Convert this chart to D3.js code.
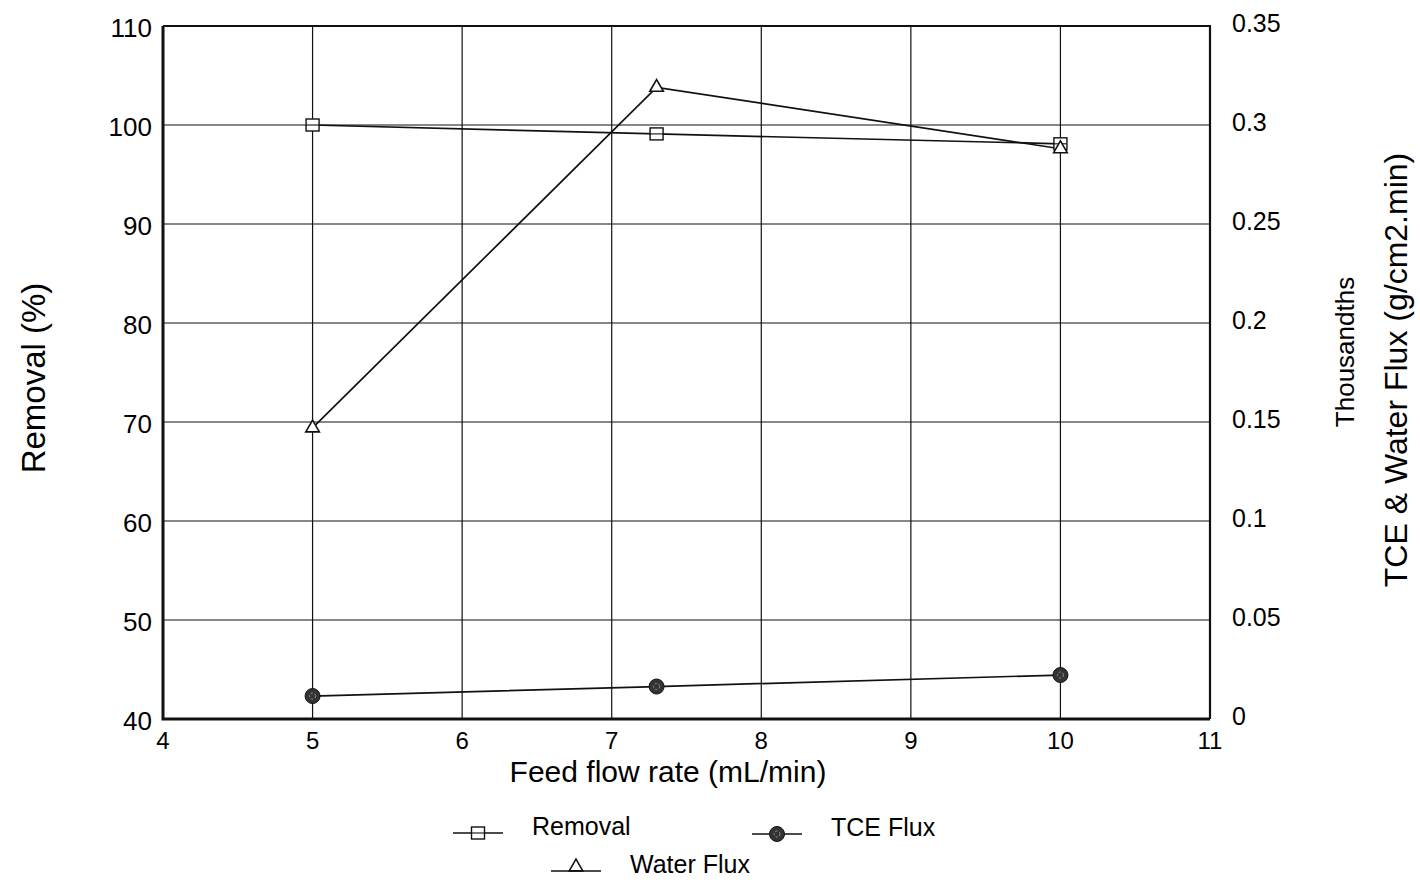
<!DOCTYPE html>
<html lang="en">
<head>
    <meta charset="utf-8">
    <title>Feed flow rate</title>
    <script src="https://d3js.org/d3.v7.min.js"></script>
    <style>
        body { margin: 0; background: #fff; }
        text { font-family: "Liberation Sans", Arial, sans-serif; fill: #000; }
    </style>
</head>
<body>
    <svg id="chart" width="1420" height="882"></svg>
    <script>
        // Data
        const feedRate = [5, 7.3, 10];
        const removal = [100, 99.1, 98.1];        // %, left axis
        const tceFlux = [0.0116, 0.0164, 0.0222]; // thousandths g/cm2.min, right axis
        const waterFlux = [0.147, 0.319, 0.288];  // thousandths g/cm2.min, right axis

        const xTicks = [4, 5, 6, 7, 8, 9, 10, 11];
        const leftTicks = [40, 50, 60, 70, 80, 90, 100, 110];
        const rightTicks = [0, 0.05, 0.1, 0.15, 0.2, 0.25, 0.3, 0.35];

        const svg = d3.select("#chart");
        const plotL = 163, plotR = 1210, plotT = 26, plotB = 719;

        const x = d3.scaleLinear().domain([4, 11]).range([plotL, plotR]);
        const yL = d3.scaleLinear().domain([40, 110]).range([plotB, plotT]);
        const yR = d3.scaleLinear().domain([0, 0.35]).range([plotB, plotT]);

        // grid
        const grid = svg.append("g").attr("stroke", "#111").attr("stroke-width", 1.2);
        xTicks.slice(1, -1).forEach(t => {
            grid.append("line").attr("x1", x(t)).attr("x2", x(t)).attr("y1", plotT).attr("y2", plotB);
        });
        leftTicks.slice(1, -1).forEach(t => {
            grid.append("line").attr("x1", plotL).attr("x2", plotR).attr("y1", yL(t)).attr("y2", yL(t));
        });

        // frame: heavier on left and bottom
        const frame = svg.append("g").attr("stroke", "#111").attr("fill", "none");
        frame.append("path").attr("d", `M${plotL},${plotT}H${plotR}V${plotB}`).attr("stroke-width", 2.2);
        frame.append("path").attr("d", `M${plotL},${plotT}V${plotB}H${plotR}`).attr("stroke-width", 3);

        // tick labels
        const lbl = svg.append("g");
        leftTicks.forEach(t => {
            lbl.append("text").attr("x", plotL - 11).attr("y", yL(t) + 11)
                .attr("text-anchor", "end").attr("font-size", 26).text(t);
        });
        rightTicks.forEach(t => {
            lbl.append("text").attr("x", plotR + 22).attr("y", yR(t) + 6)
                .attr("text-anchor", "start").attr("font-size", 25).text(t);
        });
        xTicks.forEach(t => {
            lbl.append("text").attr("x", x(t)).attr("y", 749)
                .attr("text-anchor", "middle").attr("font-size", 24).text(t);
        });

        // axis titles
        svg.append("text").attr("x", 668).attr("y", 782)
            .attr("text-anchor", "middle").attr("font-size", 30)
            .text("Feed flow rate (mL/min)");
        svg.append("text")
            .attr("transform", "translate(45,378) rotate(-90)")
            .attr("text-anchor", "middle").attr("font-size", 33)
            .text("Removal (%)");
        svg.append("text")
            .attr("transform", "translate(1354,352) rotate(-90)")
            .attr("text-anchor", "middle").attr("font-size", 26)
            .text("Thousandths");
        svg.append("text")
            .attr("transform", "translate(1407,370) rotate(-90)")
            .attr("text-anchor", "middle").attr("font-size", 32)
            .text("TCE & Water Flux  (g/cm2.min)");

        // series lines
        const pts = (vals, scale) => feedRate.map((f, i) => [x(f), scale(vals[i])]);
        const line = d3.line();
        const lineStyle = sel => sel.attr("fill", "none").attr("stroke", "#111").attr("stroke-width", 1.7);

        svg.append("path").attr("d", line(pts(removal, yL))).call(lineStyle);
        svg.append("path").attr("d", line(pts(tceFlux, yR))).call(lineStyle);
        svg.append("path").attr("d", line(pts(waterFlux, yR))).call(lineStyle);

        // markers
        function square(g, cx, cy) {
            g.append("rect").attr("x", cx - 6.5).attr("y", cy - 6).attr("width", 13).attr("height", 12)
                .attr("fill", "#fff").attr("stroke", "#111").attr("stroke-width", 1.4);
            g.append("line").attr("x1", cx - 6.5).attr("x2", cx + 6.5).attr("y1", cy).attr("y2", cy)
                .attr("stroke", "#111").attr("stroke-width", 1.1);
        }
        function circle(g, cx, cy) {
            g.append("circle").attr("cx", cx).attr("cy", cy).attr("r", 7.5)
                .attr("fill", "#333").attr("stroke", "#111").attr("stroke-width", 1);
            g.append("circle").attr("cx", cx).attr("cy", cy).attr("r", 3)
                .attr("fill", "none").attr("stroke", "#999").attr("stroke-width", 1).attr("stroke-dasharray", "2,2");
        }
        function triangle(g, cx, cy) {
            g.append("path")
                .attr("d", d3.symbol(d3.symbolTriangle, 80)())
                .attr("transform", `translate(${cx},${cy})`)
                .attr("fill", "#fff").attr("stroke", "#111").attr("stroke-width", 1.6);
        }

        const marks = svg.append("g");
        pts(removal, yL).forEach(p => square(marks, p[0], p[1]));
        pts(tceFlux, yR).forEach(p => circle(marks, p[0], p[1]));
        pts(waterFlux, yR).forEach(p => triangle(marks, p[0], p[1]));

        // legend
        const legend = [
            { name: "Removal", draw: square, x: 453, y: 833, dy: 0 },
            { name: "TCE Flux", draw: circle, x: 752, y: 834, dy: 0 },
            { name: "Water Flux", draw: triangle, x: 551, y: 871, dy: -4 }
        ];
        const lg = svg.append("g");
        legend.forEach(d => {
            lg.append("line").attr("x1", d.x).attr("x2", d.x + 50).attr("y1", d.y).attr("y2", d.y)
                .attr("stroke", "#111").attr("stroke-width", 1.7);
            d.draw(lg, d.x + 25, d.y + d.dy);
            lg.append("text").attr("x", d.x + 79).attr("y", d.y + 2)
                .attr("font-size", 25).text(d.name);
        });
    </script>
</body>
</html>
